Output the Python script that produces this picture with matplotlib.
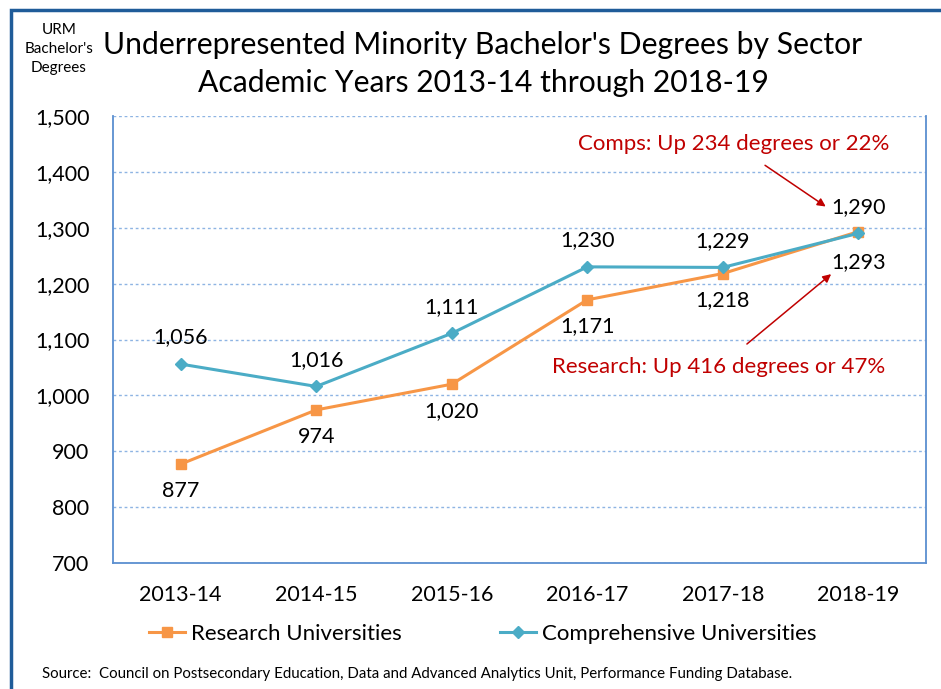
import matplotlib
matplotlib.use("Agg")
import matplotlib.pyplot as plt
from matplotlib.patches import Rectangle
from matplotlib.lines import Line2D

plt.rcParams['font.family'] = ['Lato', 'DejaVu Sans']

years = ['2013-14', '2014-15', '2015-16', '2016-17', '2017-18', '2018-19']
research = [877, 974, 1020, 1171, 1218, 1293]
comprehensive = [1056, 1016, 1111, 1230, 1229, 1290]
y_ticks = [700, 800, 900, 1000, 1100, 1200, 1300, 1400, 1500]

orange = '#F79646'
teal = '#4BACC6'
red = '#C00000'
spine_blue = '#5B8FD0'

fig = plt.figure(figsize=(9.41, 6.89), dpi=100)
ax = fig.add_axes([113/941, 1 - 563/689, 813/941, 447/689])

x = list(range(len(years)))
ax.plot(x, research, color=orange, lw=2.2, marker='s', ms=7, zorder=3)
ax.plot(x, comprehensive, color=teal, lw=2.2, marker='D', ms=6, zorder=3)

ax.set_xlim(-0.5, 5.5)
ax.set_ylim(700, 1500)
ax.set_yticks(y_ticks)
ax.set_yticklabels(['{:,}'.format(v) for v in y_ticks], fontsize=15.5)
ax.set_xticks(x)
ax.set_xticklabels(years, fontsize=15.5)
ax.tick_params(axis='x', length=0, pad=16)
ax.tick_params(axis='y', length=0, pad=17)
ax.yaxis.grid(True, linestyle=(0, (2, 2)), color='#8EB4E3', lw=1)
ax.set_axisbelow(True)
for side in ['left', 'bottom', 'right']:
    ax.spines[side].set_color(spine_blue)
    ax.spines[side].set_linewidth(1.3)
ax.spines['top'].set_visible(False)

# data labels
for i, v in enumerate(comprehensive):
    ax.annotate('{:,}'.format(v), (i, v), xytext=(0, 12), textcoords='offset points',
                ha='center', va='bottom', fontsize=15.5)
for i, v in enumerate(research):
    off = -15 if i == 5 else -12
    ax.annotate('{:,}'.format(v), (i, v), xytext=(0, off), textcoords='offset points',
                ha='center', va='top', fontsize=15.5)

# callouts
ax.annotate('Comps: Up 234 degrees or 22%', xy=(4.76, 1338), xytext=(4.08, 1450),
            ha='center', va='center', fontsize=16, color=red,
            arrowprops=dict(arrowstyle='-|>', color=red, lw=1.1,
                            shrinkA=11, shrinkB=0, mutation_scale=12))
ax.annotate('Research: Up 416 degrees or 47%', xy=(4.8, 1217), xytext=(3.97, 1050),
            ha='center', va='center', fontsize=16, color=red,
            arrowprops=dict(arrowstyle='-|>', color=red, lw=1.1,
                            shrinkA=12, shrinkB=0, mutation_scale=12))

# titles
fig.text(483/941, 1 - 45/689, "Underrepresented Minority Bachelor's Degrees by Sector",
         ha='center', va='center', fontsize=21.7)
fig.text(483/941, 1 - 83/689, "Academic Years 2013-14 through 2018-19",
         ha='center', va='center', fontsize=21.7)
fig.text(59/941, 1 - 49/689, "URM\nBachelor's\nDegrees", ha='center', va='center',
         fontsize=11, linespacing=1.45)

# legend
handles = [Line2D([0], [0], color=orange, lw=2.2, marker='s', ms=7),
           Line2D([0], [0], color=teal, lw=2.2, marker='D', ms=6)]
fig.legend(handles, ['Research Universities', 'Comprehensive Universities'],
           loc='center', bbox_to_anchor=(483/941, 1 - 634/689), ncol=2,
           frameon=False, fontsize=16, columnspacing=4.4, handlelength=1.6,
           handletextpad=0.3)

fig.text(42/941, 1 - 674/689,
         'Source:  Council on Postsecondary Education, Data and Advanced Analytics Unit, '
         'Performance Funding Database.', ha='left', va='center', fontsize=10.8)

# outer border
fig.patches.append(Rectangle((11/941, -0.05), 1.0, 1 - 10/689 + 0.05,
                             transform=fig.transFigure, fill=False,
                             edgecolor='#1F5C99', lw=2.5))

fig.savefig('out.png', dpi=100)
